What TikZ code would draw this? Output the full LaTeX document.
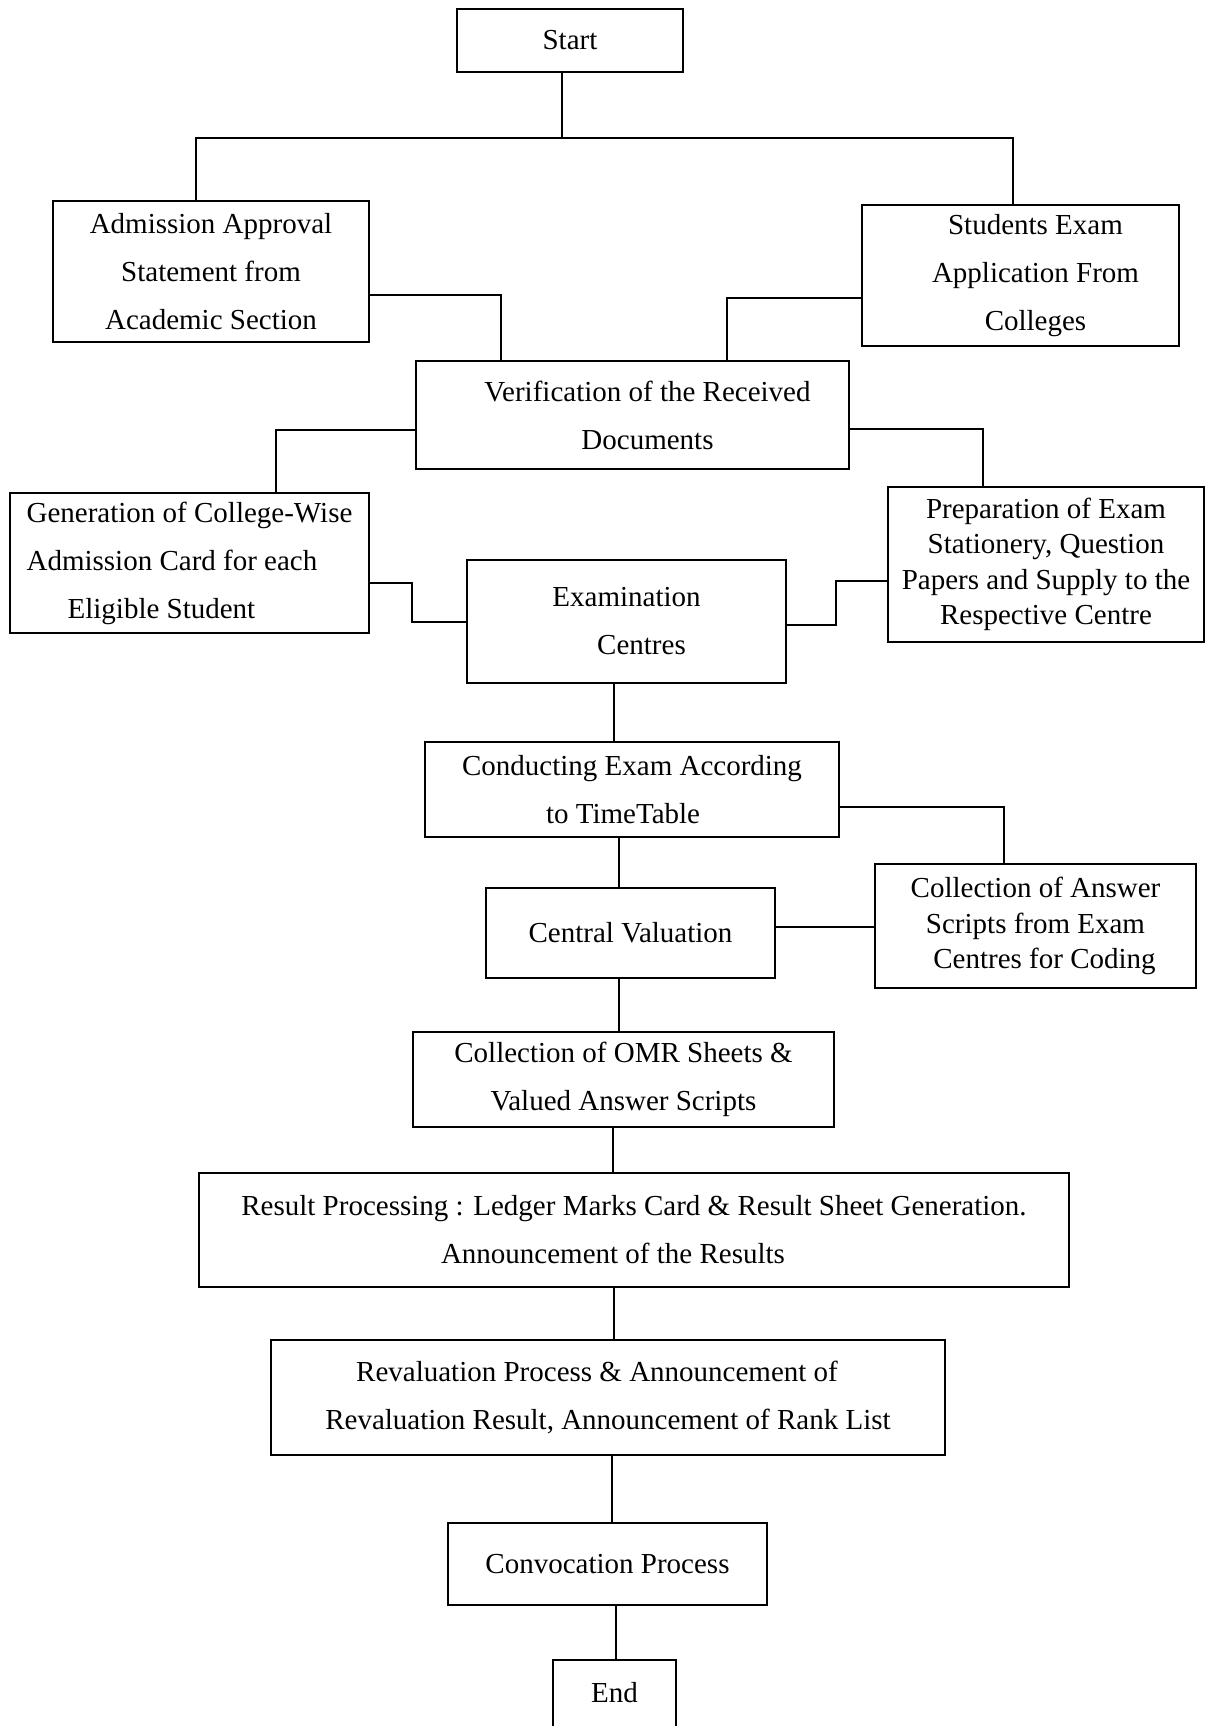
\documentclass[tikz,border=0pt]{standalone}
\usepackage{fontspec}
\setmainfont{Liberation Serif}
\begin{document}
\begin{tikzpicture}[x=1pt,y=-1pt,
  box/.style={draw, line width=2.2pt, align=center, inner sep=0pt,
    font=\fontsize{29}{48}\selectfont},
  tight/.style={font=\fontsize{29}{35.5}\selectfont},
  conn/.style={line width=2pt}]
\useasboundingbox[fill=white] (0,0) rectangle (1211,1726);
\clip (0,0) rectangle (1211,1726);

% boxes
\node[box, minimum width=226pt, minimum height=63pt] (start) at (570,40.5) {Start};
\node[box, minimum width=316pt, minimum height=141pt] (adm) at (211,271.5)
  {Admission Approval\\Statement from\\Academic Section};
\node[box, minimum width=317pt, minimum height=141pt] (stu) at (1020.5,275.5)
  {\hspace*{30pt}Students Exam\\\hspace*{30pt}Application From\\\hspace*{30pt}Colleges};
\node[box, minimum width=433pt, minimum height=108pt] (ver) at (632.5,415)
  {\hspace*{30pt}Verification of the Received\\\hspace*{30pt}Documents};
\node[box, minimum width=359pt, minimum height=140pt, align=left] (gen) at (189.5,563)
  {Generation of College-Wise\\Admission Card for each\\\hspace*{41pt}Eligible Student};
\node[box, tight, minimum width=316pt, minimum height=155pt] (prep) at (1046,564.5)
  {Preparation of Exam\\Stationery, Question\\Papers and Supply to the\\Respective Centre};
\node[box, minimum width=319pt, minimum height=123pt] (exam) at (626.5,621.5)
  {Examination\\\hspace*{30pt}Centres};
\node[box, minimum width=414pt, minimum height=95pt] (cond) at (632,789.5)
  {Conducting Exam According\\to TimeTable\hspace*{18pt}};
\node[box, minimum width=289pt, minimum height=90pt] (cent) at (630.5,933)
  {Central Valuation};
\node[box, tight, minimum width=321pt, minimum height=124pt] (ans) at (1035.5,926)
  {Collection of Answer\\Scripts from Exam\\\hspace*{18pt}Centres for Coding};
\node[box, minimum width=421pt, minimum height=95pt] (omr) at (623.5,1079.5)
  {Collection of OMR Sheets \&\\Valued Answer Scripts};
\node[box, minimum width=870pt, minimum height=114pt] (res) at (634,1230)
  {Result Processing : Ledger Marks Card \& Result Sheet Generation.\\Announcement of the Results\hspace*{42pt}};
\node[box, minimum width=674pt, minimum height=115pt] (rev) at (608,1397.5)
  {Revaluation Process \& Announcement of\hspace*{22pt}\\Revaluation Result, Announcement of Rank List};
\node[box, minimum width=319pt, minimum height=82pt] (conv) at (607.5,1564)
  {Convocation Process};
\node[box, minimum width=123pt, minimum height=80pt, text depth=16pt] (end) at (614.5,1700)
  {End};

% junction coordinates
\coordinate (j0) at (562,138);
\coordinate (jl) at (196,138);
\coordinate (jr) at (1013,138);
\coordinate (a1) at (501,295);
\coordinate (s1) at (727,298);
\coordinate (v1) at (276,430);
\coordinate (v2) at (983,429);
\coordinate (g1) at (412,583);
\coordinate (g2) at (412,622);
\coordinate (p1) at (836,581);
\coordinate (p2) at (836,625);
\coordinate (e1) at (614,0);
\coordinate (c1) at (1004,807);
\coordinate (k1) at (619,0);
\coordinate (k2) at (0,927);
\coordinate (o1) at (613,0);
\coordinate (r1) at (614,0);
\coordinate (r2) at (612,0);
\coordinate (r3) at (616,0);

% connectors
\draw[conn] (start.south -| j0) -- (j0);
\draw[conn] (adm.north -| jl) -- (jl) -- (jr) -- (stu.north -| jr);
\draw[conn] (adm.east |- a1) -- (a1) -- (ver.north -| a1);
\draw[conn] (stu.west |- s1) -- (s1) -- (ver.north -| s1);
\draw[conn] (ver.west |- v1) -- (v1) -- (gen.north -| v1);
\draw[conn] (ver.east |- v2) -- (v2) -- (prep.north -| v2);
\draw[conn] (gen.east |- g1) -- (g1) -- (g2) -- (exam.west |- g2);
\draw[conn] (prep.west |- p1) -- (p1) -- (p2) -- (exam.east |- p2);
\draw[conn] (exam.south -| e1) -- (cond.north -| e1);
\draw[conn] (cond.east |- c1) -- (c1) -- (ans.north -| c1);
\draw[conn] (cond.south -| k1) -- (cent.north -| k1);
\draw[conn] (cent.east |- k2) -- (ans.west |- k2);
\draw[conn] (cent.south -| k1) -- (omr.north -| k1);
\draw[conn] (omr.south -| o1) -- (res.north -| o1);
\draw[conn] (res.south -| r1) -- (rev.north -| r1);
\draw[conn] (rev.south -| r2) -- (conv.north -| r2);
\draw[conn] (conv.south -| r3) -- (end.north -| r3);
\end{tikzpicture}
\end{document}
